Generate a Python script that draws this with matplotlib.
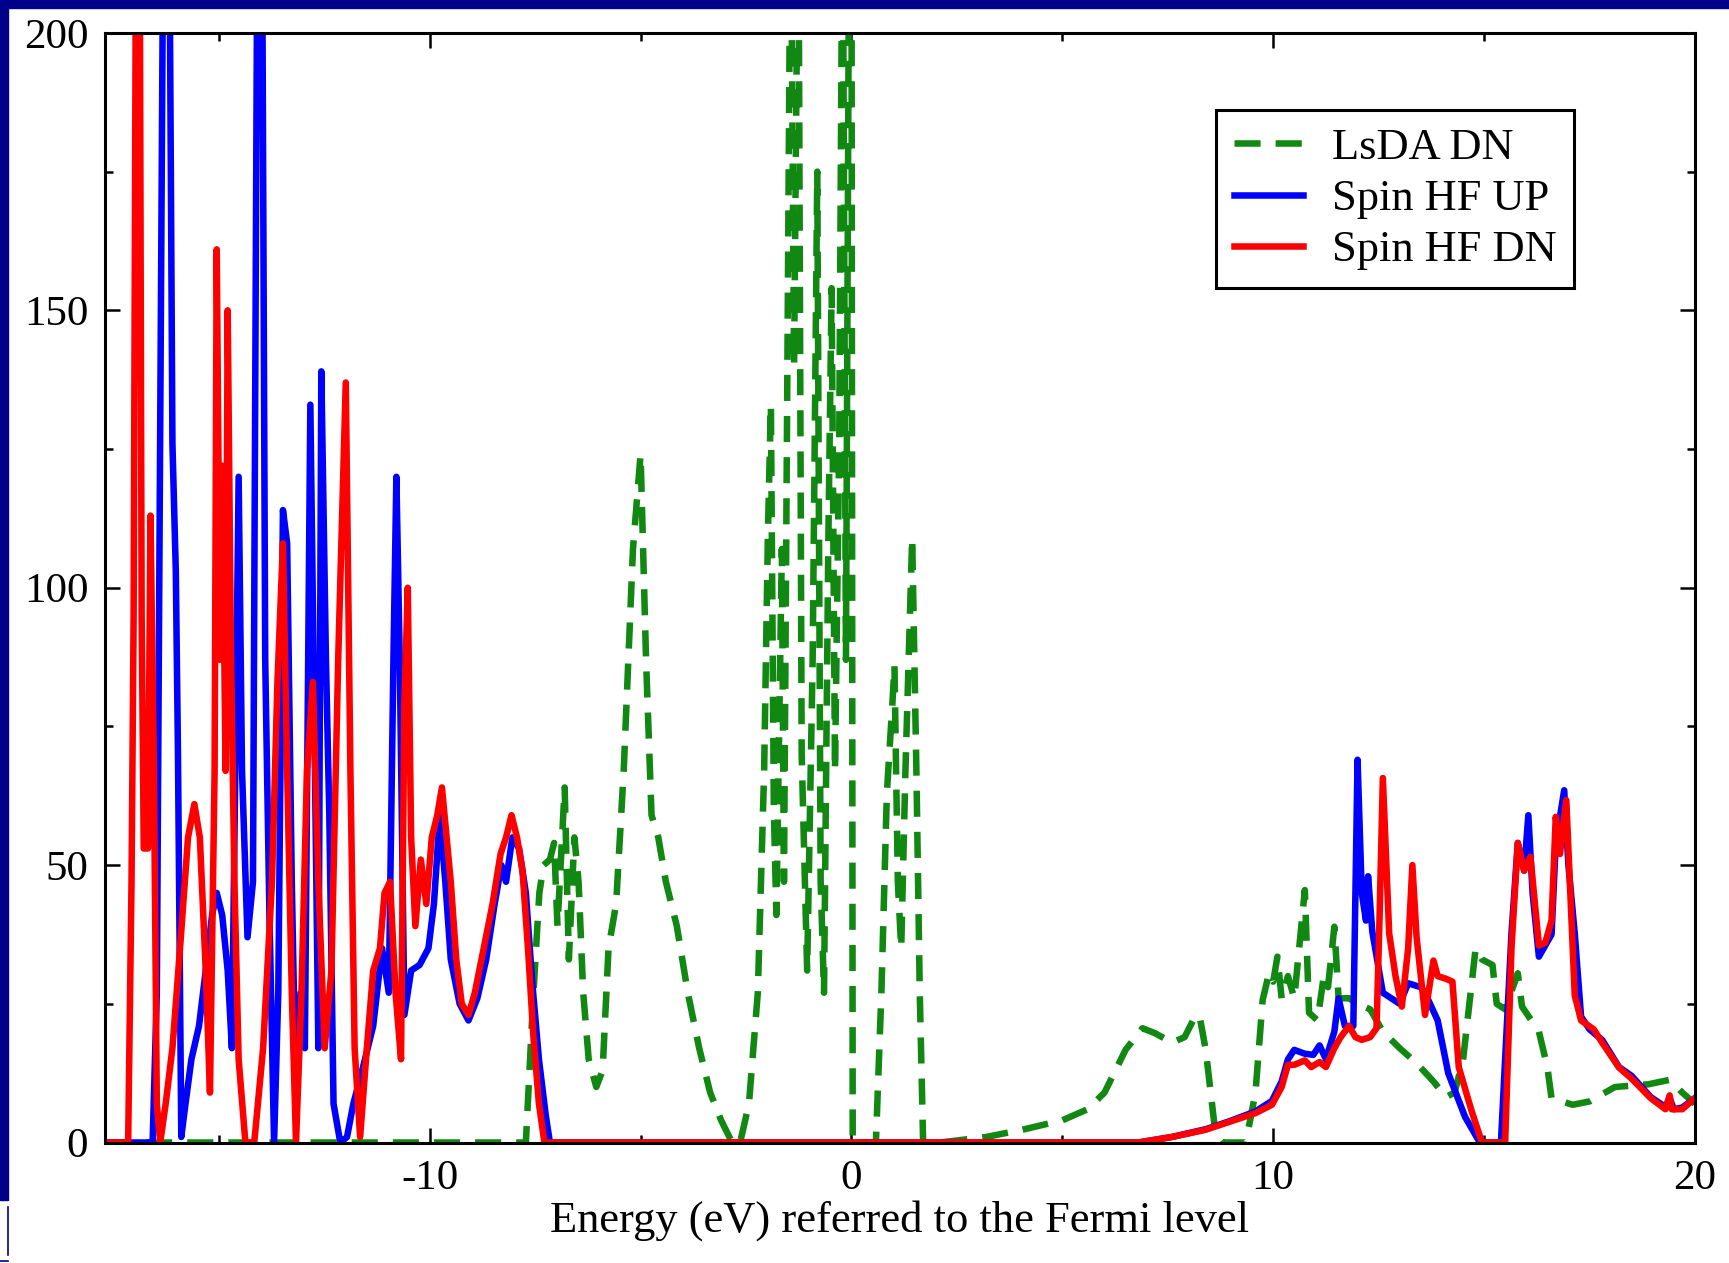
import numpy as np
import matplotlib
matplotlib.use('Agg')
import matplotlib.pyplot as plt
from matplotlib.patches import Rectangle
from matplotlib.lines import Line2D

# density of states, energy in eV relative to E_F
e_lsda = [-17.7, -7.72, -7.54, -7.4, -7.3, -7.15, -7.05, -6.97, -6.8, -6.7, -6.57, -6.47, -6.36,
          -6.23, -6.05, -5.9, -5.76, -5.58, -5.4, -5.18, -5.0, -4.87, -4.74, -4.58, -4.4, -4.14,
          -3.88, -3.61, -3.35, -3.09, -2.83, -2.64, -2.43, -2.22, -2.07, -1.98, -1.91, -1.84,
          -1.78, -1.65, -1.6, -1.44, -1.36, -1.26, -1.18, -1.05, -0.92, -0.81, -0.73, -0.65,
          -0.55, -0.47, -0.39, -0.29, -0.21, -0.13, -0.05, 0.0, 0.03, 0.58, 0.71, 0.84, 0.97,
          1.02, 1.1, 1.18, 1.28, 1.44, 1.54, 1.62, 1.70, 2.1, 3.2, 4.05, 5.0, 5.6, 6.0, 6.5,
          6.9, 7.2, 7.6, 7.9, 8.1, 8.25, 8.4, 8.63, 8.8, 9.35, 9.58, 9.75, 9.9, 10.0, 10.1,
          10.2, 10.35, 10.5, 10.75, 10.85, 11.05, 11.2, 11.3, 11.45, 11.55, 11.8, 12.0, 12.3,
          12.6, 13.0, 13.4, 13.8, 14.1, 14.3, 14.5, 14.8, 14.95, 15.2, 15.3, 15.5, 15.8, 15.9,
          16.3, 16.5, 16.6, 17.1, 17.5, 18.1, 18.9, 19.4, 19.7, 20.0]
dos_lsda = [0, 0, 27, 45, 50, 51, 54, 39, 64, 33, 55, 47, 27,
            15, 10, 13, 35, 43, 67, 107, 124, 87, 59, 55, 47, 39,
            27, 17, 9, 4, 0, 0, 7, 27, 67, 110, 133, 60,
            41, 107, 47, 230, 140, 230, 70, 31, 87, 175, 47, 27,
            107, 154, 67, 126, 230, 87, 230, 230, 0, 0, 27, 63, 79,
            86, 47, 35, 67, 109, 67, 27, 0, 0, 1, 2.3, 4, 6, 9, 16.7,
            20.6, 19.7, 18, 19, 22, 23, 16.7, 1.7, 0, 0, 9, 25.7, 30.5, 29, 33.5,
            26, 30, 26, 45.5, 23.4, 22, 30, 28, 38.9, 26, 26, 25, 24,
            20, 17, 14.3, 11, 8.2, 9, 14.8, 35, 33, 32, 25, 24, 30.5, 24.5,
            20, 13.6, 8, 6.8, 7.4, 10, 10.5, 11.3, 9, 7]

e_hf_up = [-17.7, -16.57, -16.47, -16.39, -16.31, -16.18, -16.1, -16.02, -15.97, -15.89, -15.79,
           -15.65, -15.47, -15.31, -15.16, -15.05, -14.92, -14.79, -14.69, -14.61, -14.53, -14.45,
           -14.32, -14.19, -14.08, -13.98, -13.9, -13.8, -13.69, -13.59, -13.48, -13.38, -13.27,
           -13.17, -13.06, -12.96, -12.83, -12.72, -12.64, -12.57, -12.46, -12.38, -12.28, -12.12,
           -11.96, -11.81, -11.6, -11.34, -11.13, -10.97, -10.86, -10.79, -10.71, -10.6, -10.44,
           -10.24, -10.03, -9.9, -9.76, -9.63, -9.5, -9.29, -9.08, -8.87, -8.66, -8.46, -8.3,
           -8.19, -8.04, -7.88, -7.72, -7.57, -7.41, -7.25, -7.15, 6.8, 7.6, 8.4, 8.95, 9.58,
           9.97, 10.2, 10.35, 10.5, 10.75, 10.95, 11.1, 11.25, 11.45, 11.55, 11.7, 11.9, 12.0,
           12.1, 12.2, 12.25, 12.35, 12.6, 13.0, 13.2, 13.5, 13.6, 13.9, 14.15, 14.55, 14.9,
           15.4, 15.65, 15.8, 15.95, 16.05, 16.15, 16.3, 16.6, 16.7, 16.9, 17.0, 17.15, 17.3,
           17.5, 17.8, 18.2, 18.5, 18.95, 19.3, 19.4, 19.5, 19.7, 20.0]
dos_hf_up = [0, 0, 27, 130, 230, 230, 126, 103, 71, 1, 7,
             15, 21, 31, 41, 45, 41, 31, 17, 67, 120, 67,
             37, 47, 230, 230, 87, 41, 0, 27, 114, 108, 47,
             7, 27, 17, 133, 67, 17, 139, 87, 59, 7, 0,
             1, 7, 13, 21, 35, 27, 87, 120, 87, 23, 31,
             32, 35, 43, 59, 47, 33, 25, 22, 26, 33, 43, 50,
             47, 55, 53, 45, 29, 15, 5, 0, 0, 1, 2.4, 3.8, 5.6,
             7.5, 11, 15, 16.7, 16, 15.8, 17.5, 15, 20, 26, 21, 21, 69,
             45, 40, 48, 38, 27, 25, 28.7, 28, 27, 22, 12.5, 4.6, 0,
             0, 37.7, 54, 49, 59, 45, 33.5, 37.5, 54, 63.5, 50, 37.7, 22.7,
             20.4, 18.5, 13.6, 12, 8.2, 6.4, 8, 6, 6.3, 8]

e_hf_dn = [-17.7, -17.15, -17.07, -17.02, -16.96, -16.88, -16.83, -16.78, -16.68, -16.62, -16.54,
           -16.47, -16.39, -16.26, -16.1, -15.92, -15.73, -15.58, -15.45, -15.31, -15.21, -15.1,
           -15.05, -14.97, -14.92, -14.84, -14.79, -14.71, -14.63, -14.53, -14.37, -14.16, -13.95,
           -13.74, -13.61, -13.48, -13.38, -13.27, -13.17, -13.04, -12.91, -12.77, -12.64, -12.49,
           -12.33, -12.17, -11.99, -11.88, -11.78, -11.65, -11.49, -11.34, -11.18, -11.07, -10.94,
           -10.81, -10.68, -10.6, -10.52, -10.44, -10.34, -10.21, -10.08, -9.95, -9.82, -9.71,
           -9.6, -9.5, -9.37, -9.24, -9.08, -8.93, -8.72, -8.51, -8.32, -8.19, -8.06, -7.93, -7.8,
           -7.67, -7.54, -7.41, -7.28, 6.8, 7.6, 8.4, 8.95, 9.58, 9.97, 10.2, 10.35, 10.5, 10.75,
           10.9, 11.1, 11.25, 11.45, 11.6, 11.8, 11.95, 12.1, 12.3, 12.45, 12.52, 12.6, 12.75,
           12.9, 13.05, 13.2, 13.3, 13.4, 13.6, 13.8, 13.9, 14.1, 14.25, 14.4, 14.7, 14.95, 15.5,
           15.65, 15.8, 15.95, 16.1, 16.3, 16.45, 16.6, 16.7, 16.8, 16.95, 17.15, 17.3, 17.6,
           17.8, 18.2, 18.5, 18.95, 19.3, 19.4, 19.45, 19.7, 20.0]
dos_hf_dn = [0, 0, 47, 95, 230, 230, 95, 53, 53, 113, 67,
             7, 0, 7, 17, 35, 55, 61, 55, 31, 9, 67,
             161, 87, 122, 67, 150, 87, 47, 15, 0, 0, 17,
             47, 83, 108, 67, 27, 0, 27, 67, 83, 47, 17,
             31, 87, 137, 67, 17, 1, 17, 31, 35, 45, 47,
             27, 15, 79, 100, 55, 39, 51, 43, 55, 59, 64,
             55, 47, 33, 25, 23, 27, 35, 43, 52, 55, 59, 55, 49,
             35, 19, 7, 0, 0, 1, 2.3, 3.7, 5.3, 6.8, 10, 14, 14, 14.8,
             13.6, 14.5, 13.6, 17, 19, 21, 19, 18.5, 19, 20.6, 40, 65.7, 37.7,
             30, 24.5, 35, 50, 37, 23, 32.8, 30, 29.5, 29, 13.6, 5.8, 0, 0,
             35, 54, 49, 51.5, 35.5, 36, 40, 58.7, 52, 61.7, 26.5, 22, 20.4,
             18, 13.5, 11.5, 8, 6, 8.5, 6, 6, 8]

plt.rcParams['font.family'] = ['Liberation Serif', 'DejaVu Serif']
plt.rcParams['axes.unicode_minus'] = False
fs = 31
lw = 4.7

fig = plt.figure(figsize=(17.29, 12.63), dpi=100)
ax = fig.add_axes([0.0607, 0.0954, 0.9196, 0.8785])

ax.plot(e_lsda, dos_lsda, color='#118811', linewidth=lw, dashes=(4.0, 2.3), label='LsDA DN')
ax.plot(e_hf_up, dos_hf_up, color='#0000ff', linewidth=lw, label='Spin HF UP')
ax.plot(e_hf_dn, dos_hf_dn, color='#ff0000', linewidth=lw, label='Spin HF DN')

ax.set_xlim([-17.7, 20])
ax.set_ylim([0, 200])
ax.set_xticks([-10, 0, 10, 20])
ax.set_xticks([-15, -5, 5, 15], minor=True)
ax.set_yticks([0, 50, 100, 150, 200])
ax.set_yticks([25, 75, 125, 175], minor=True)
ax.tick_params(which='both', direction='in', top=True, right=True, width=1.8, labelsize=fs, pad=12)
ax.tick_params(which='major', length=11)
ax.tick_params(which='minor', length=5.5)
for s in ax.spines.values():
    s.set_linewidth(2.2)
ax.set_xlabel('Energy (eV) referred to the Fermi level', fontsize=32, labelpad=2)

leg = ax.legend(loc='upper left', bbox_to_anchor=(0.699, 0.9306), borderaxespad=0, fontsize=32,
                fancybox=False, framealpha=1, edgecolor='k', handlelength=1.55, handletextpad=0.65,
                labelspacing=0.25, borderpad=0.4)
leg.get_frame().set_linewidth(2.2)

# navy slide border visible round the picture
navy = '#00008b'
fig.add_artist(Rectangle((0, 63/1263), 8/1729, 1 - 63/1263, transform=fig.transFigure, color=navy))
fig.add_artist(Rectangle((0, 1 - 8/1263), 1, 8/1263, transform=fig.transFigure, color=navy))
fig.add_artist(Line2D([8/1729, 8/1729], [8/1263, 56/1263], transform=fig.transFigure, color=navy, lw=1.2))
fig.add_artist(Line2D([0, 8/1729], [2/1263, 2/1263], transform=fig.transFigure, color=navy, lw=1.2))

fig.savefig('out.png', dpi=100)
